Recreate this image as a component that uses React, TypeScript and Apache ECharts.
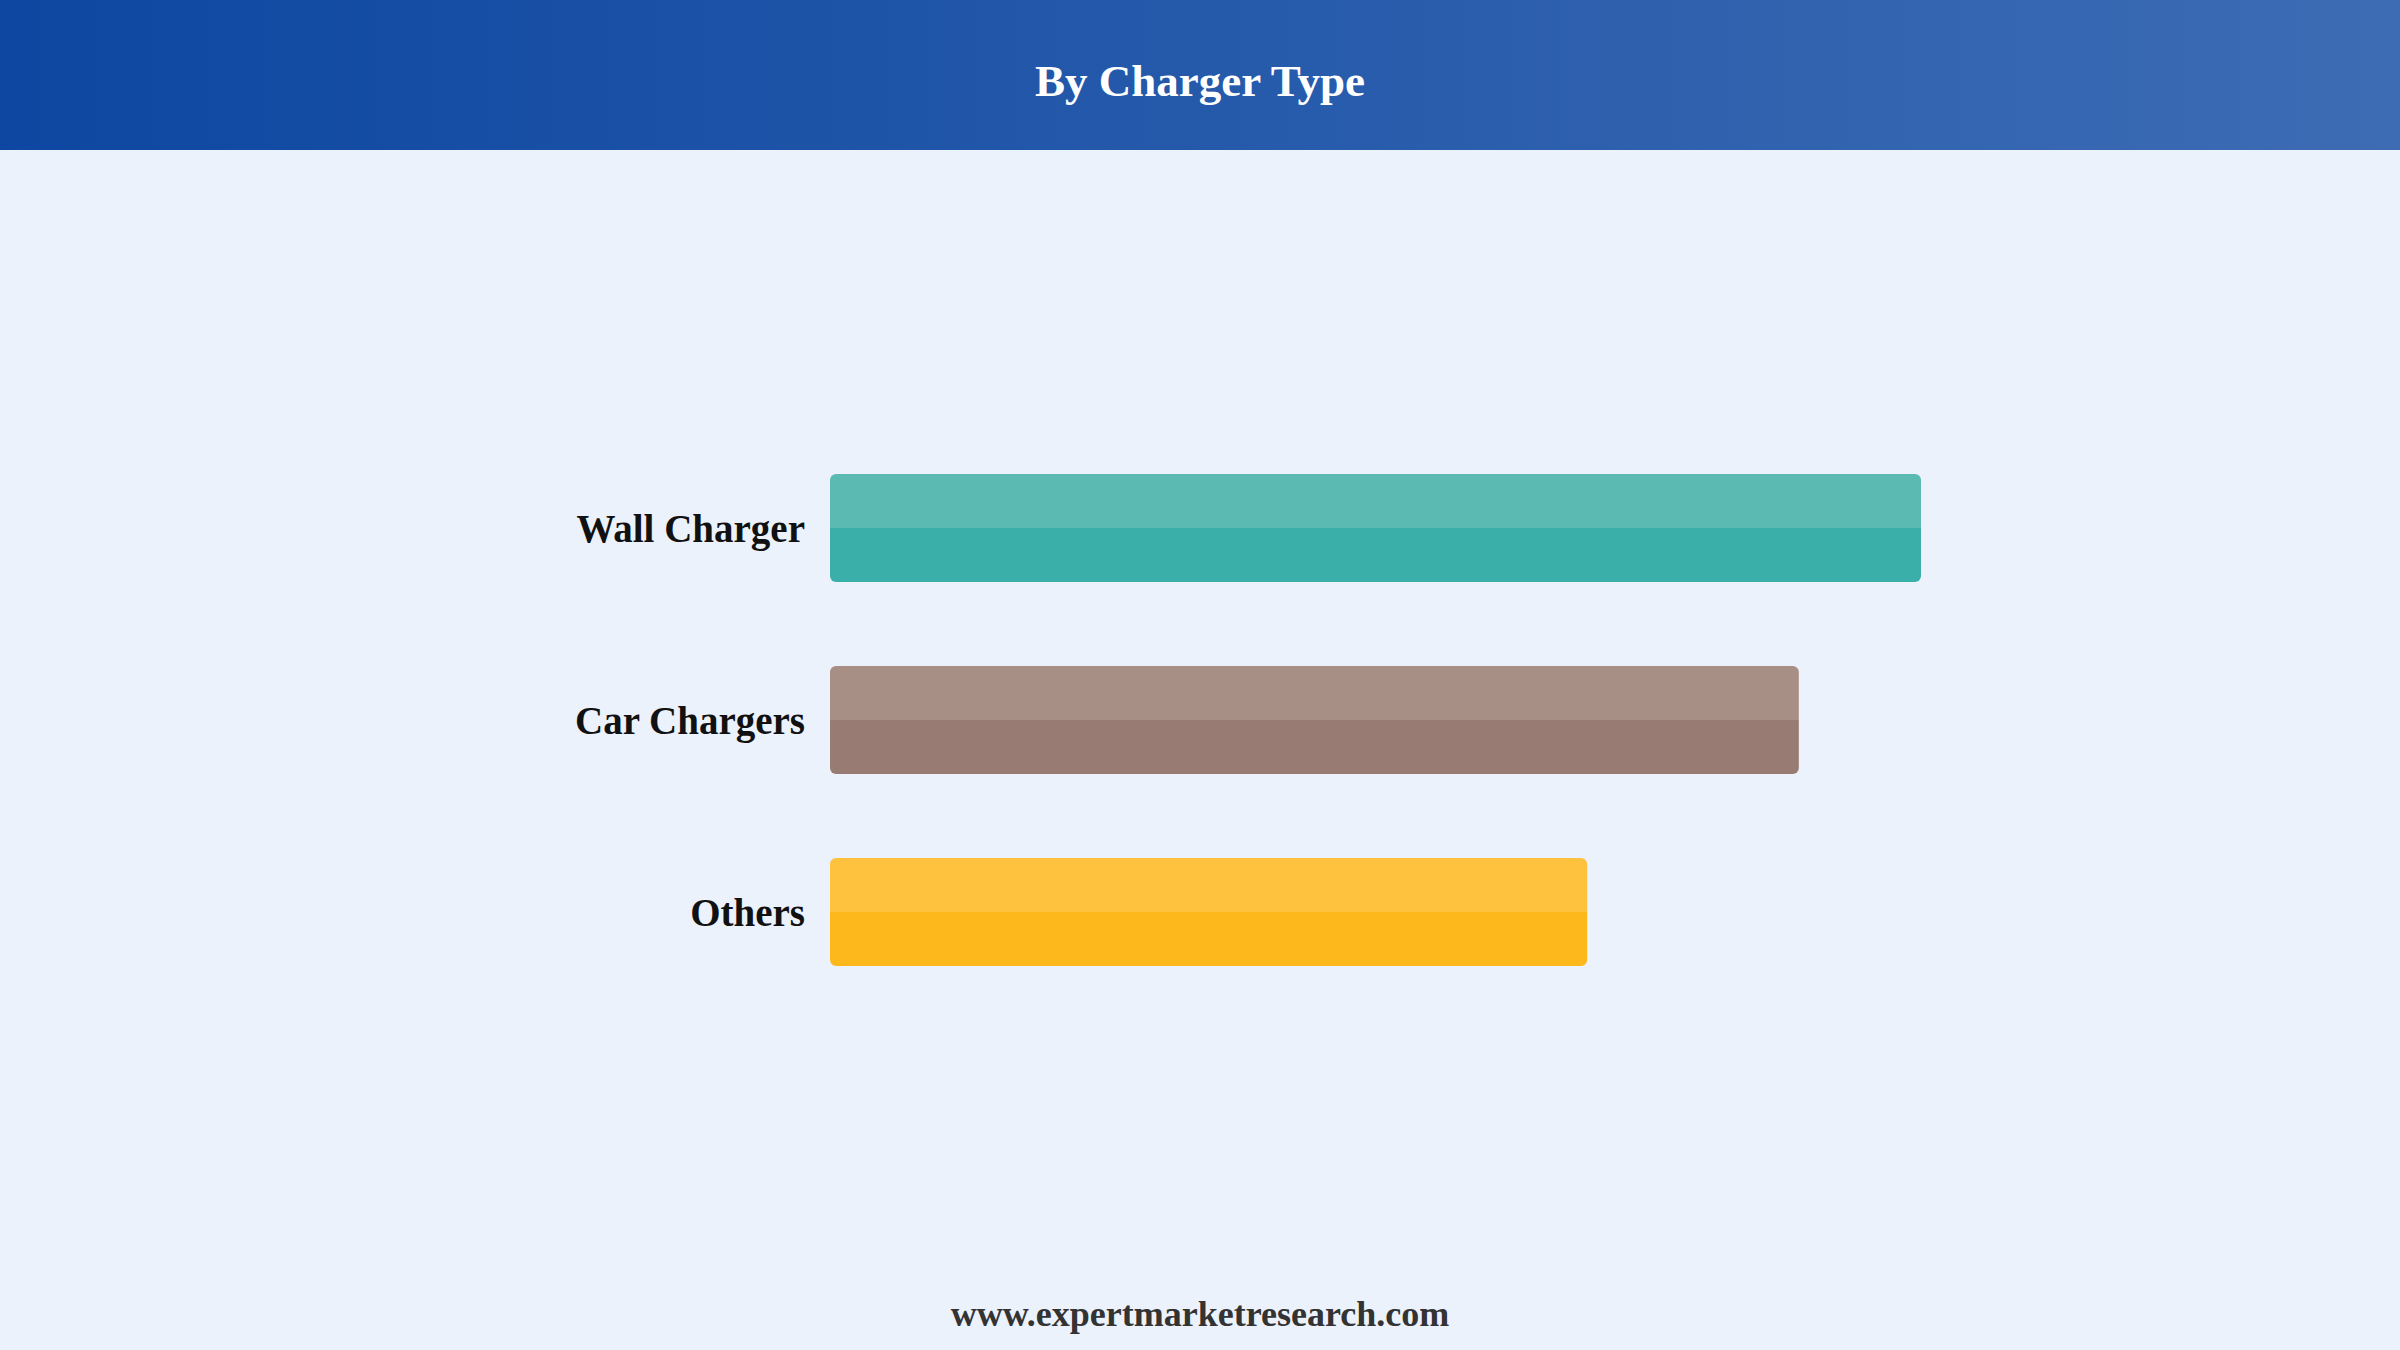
// 按充电器类型的横向柱状图
import { useRef, useEffect } from "react";
import * as echarts from "echarts";

const categories = ["Wall Charger", "Car Chargers", "Others"];
const values = [100, 88.8, 69.4];
const topColors = ["#5BBAB2", "#A88F86", "#FFC23F"];
const bottomColors = ["#3AAFA9", "#987B72", "#FDB91B"];

const serif = "'Liberation Serif', 'Times New Roman', serif";

const App = () => {
  const chartRef = useRef<HTMLDivElement>(null);

  useEffect(() => {
    document.body.style.margin = "0";
    const myChart = echarts.init(chartRef.current, null, { renderer: "svg" });

    const option = {
      animation: false,
      backgroundColor: "#EBF2FC",
      title: {
        text: "By Charger Type",
        left: "center",
        top: 53,
        textStyle: {
          color: "#fff",
          fontFamily: serif,
          fontWeight: "bold",
          fontSize: 45,
        },
      },
      graphic: [
        {
          type: "rect",
          z: -1,
          shape: { x: 0, y: 0, width: 2400, height: 150 },
          style: {
            fill: new echarts.graphic.LinearGradient(0, 0, 1, 0, [
              { offset: 0, color: "#0D47A1" },
              { offset: 1, color: "#3D6CB4" },
            ]),
          },
        },
        {
          type: "text",
          left: "center",
          top: 1296,
          style: {
            text: "www.expertmarketresearch.com",
            fill: "#333",
            font: `bold 36px ${serif}`,
          },
        },
      ],
      grid: { left: 830, width: 1091, top: 432, height: 576 },
      xAxis: {
        type: "value",
        min: 0,
        max: 100,
        show: false,
      },
      yAxis: {
        type: "category",
        data: categories,
        inverse: true,
        axisLine: { show: false },
        axisTick: { show: false },
        axisLabel: {
          color: "#111",
          fontFamily: serif,
          fontWeight: "bold",
          fontSize: 39,
          margin: 25,
        },
      },
      series: [
        {
          type: "bar",
          barWidth: 108,
          data: values.map((v, i) => ({
            value: v,
            itemStyle: {
              borderRadius: 6,
              color: new echarts.graphic.LinearGradient(0, 0, 0, 1, [
                { offset: 0, color: topColors[i] },
                { offset: 0.5, color: topColors[i] },
                { offset: 0.5, color: bottomColors[i] },
                { offset: 1, color: bottomColors[i] },
              ]),
            },
          })),
        },
      ],
    };

    myChart.setOption(option);

    return () => {
      myChart.dispose();
    };
  }, []);

  return <div ref={chartRef} style={{ width: "2400px", height: "1350px" }}></div>;
};

export default App;
